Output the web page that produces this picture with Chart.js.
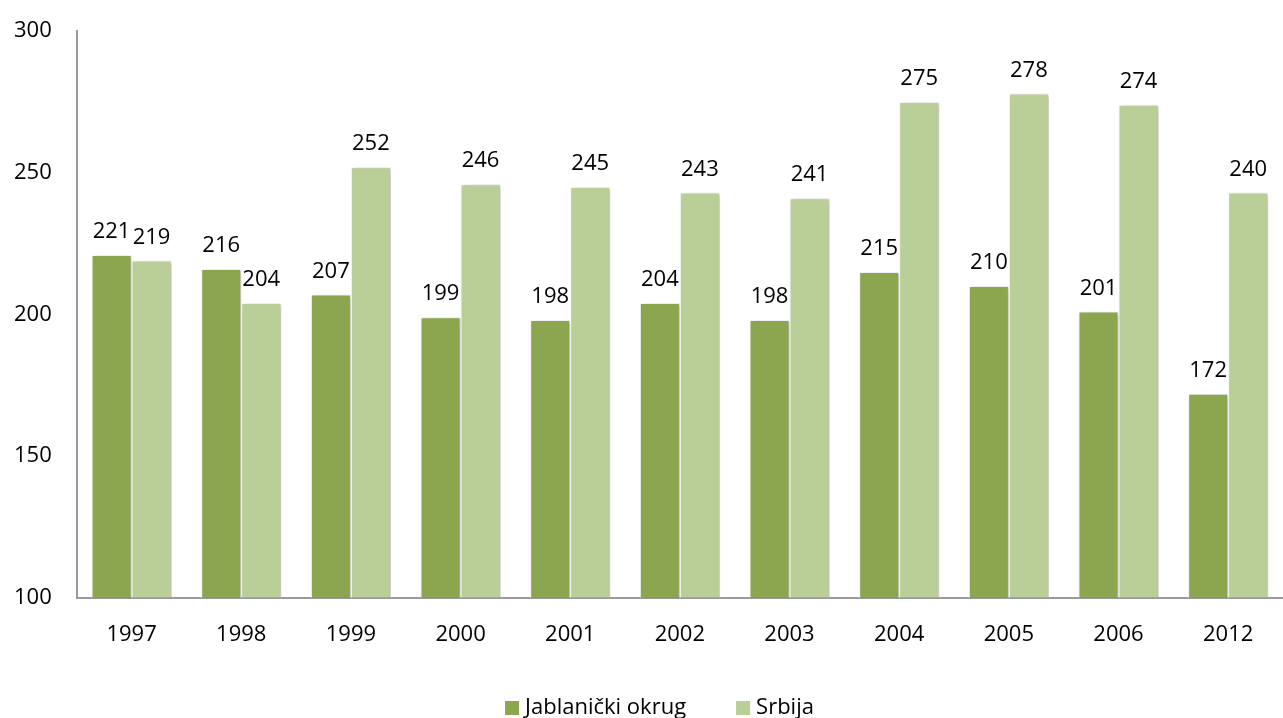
<!DOCTYPE html>
<html>
<head>
<meta charset="utf-8">
<script src="https://cdn.jsdelivr.net/npm/chart.js@4/dist/chart.umd.min.js"></script>
<style>
  html, body { margin: 0; padding: 0; background: #ffffff; overflow: hidden; }
  #wrap { position: relative; top: -7px; width: 1283px; height: 725px; }
</style>
</head>
<body>
<div id="wrap"><canvas id="chart"></canvas></div>
<script>
// data
const years = ['1997', '1998', '1999', '2000', '2001', '2002', '2003', '2004', '2005', '2006', '2012'];
const jablanicki = [221, 216, 207, 199, 198, 204, 198, 215, 210, 201, 172];
const srbija = [219, 204, 252, 246, 245, 243, 241, 275, 278, 274, 243];
// value labels as printed in the original (the last one differs from its bar)
const jablanickiLabels = ['221', '216', '207', '199', '198', '204', '198', '215', '210', '201', '172'];
const srbijaLabels = ['219', '204', '252', '246', '245', '243', '241', '275', '278', '274', '240'];
const yTicks = [100, 150, 200, 250, 300];

const FONT = "'Open Sans', 'Noto Sans', sans-serif";

// soft shadow behind the bars
const barShadow = {
  id: 'barShadow',
  beforeDatasetsDraw(chart) {
    const ctx = chart.ctx;
    ctx.save();
    ctx.shadowColor = 'rgba(0, 0, 0, 0.28)';
    ctx.shadowBlur = 4;
    ctx.shadowOffsetX = 2;
    ctx.shadowOffsetY = 1;
  },
  afterDatasetsDraw(chart) {
    chart.ctx.restore();
  }
};

// numbers above the bars
const valueLabels = {
  id: 'valueLabels',
  afterDatasetsDraw(chart) {
    const ctx = chart.ctx;
    const texts = [jablanickiLabels, srbijaLabels];
    ctx.save();
    ctx.font = '22px ' + FONT;
    ctx.fillStyle = '#000000';
    ctx.textAlign = 'center';
    ctx.textBaseline = 'alphabetic';
    chart.data.datasets.forEach((ds, i) => {
      chart.getDatasetMeta(i).data.forEach((bar, j) => {
        ctx.fillText(texts[i][j], bar.x, bar.y - 17);
      });
    });
    ctx.restore();
  }
};

// legend at the bottom, with wider gaps than the built-in one
const bottomLegend = {
  id: 'bottomLegend',
  afterDraw(chart) {
    const ctx = chart.ctx;
    const ds = chart.data.datasets;
    const box = 14, gapText = 6, gapItem = 50;
    ctx.save();
    ctx.font = '22px ' + FONT;
    ctx.textBaseline = 'middle';
    ctx.textAlign = 'left';
    const widths = ds.map(d => ctx.measureText(d.label).width);
    let total = 0;
    widths.forEach((w, i) => { total += box + gapText + w + (i ? gapItem : 0); });
    let x = (chart.width - total) / 2 + 18;
    const y = chart.height - 10;
    ds.forEach((d, i) => {
      ctx.fillStyle = d.backgroundColor;
      ctx.fillRect(x, y - box / 2, box, box);
      ctx.fillStyle = '#000000';
      ctx.fillText(d.label, x + box + gapText, y);
      x += box + gapText + widths[i] + gapItem;
    });
    ctx.restore();
  }
};

new Chart(document.getElementById('chart'), {
  type: 'bar',
  data: {
    labels: years,
    datasets: [{
      label: 'Jablanički okrug',
      data: jablanicki,
      backgroundColor: '#8ba64f',
      borderColor: '#ffffff',
      borderWidth: 1,
      barPercentage: 1,
      categoryPercentage: 0.73
    }, {
      label: 'Srbija',
      data: srbija,
      backgroundColor: '#bacf97',
      borderColor: '#ffffff',
      borderWidth: 1,
      barPercentage: 1,
      categoryPercentage: 0.73
    }]
  },
  options: {
    responsive: true,
    maintainAspectRatio: false,
    animation: false,
    layout: {
      padding: { top: 5, left: -11, right: 0, bottom: 46 }
    },
    plugins: {
      legend: { display: false },
      tooltip: { enabled: false }
    },
    scales: {
      x: {
        grid: { display: false, drawTicks: false },
        border: { color: '#9a9a9a', width: 2 },
        ticks: {
          color: '#000000',
          font: { family: FONT, size: 22 },
          padding: 24
        }
      },
      y: {
        min: 100,
        max: 300,
        afterBuildTicks(axis) {
          axis.ticks = yTicks.map(v => ({ value: v }));
        },
        grid: { display: false, drawTicks: false },
        border: { color: '#9a9a9a', width: 2 },
        ticks: {
          color: '#000000',
          font: { family: FONT, size: 22 },
          padding: 25
        }
      }
    }
  },
  plugins: [barShadow, valueLabels, bottomLegend]
});
</script>
</body>
</html>
